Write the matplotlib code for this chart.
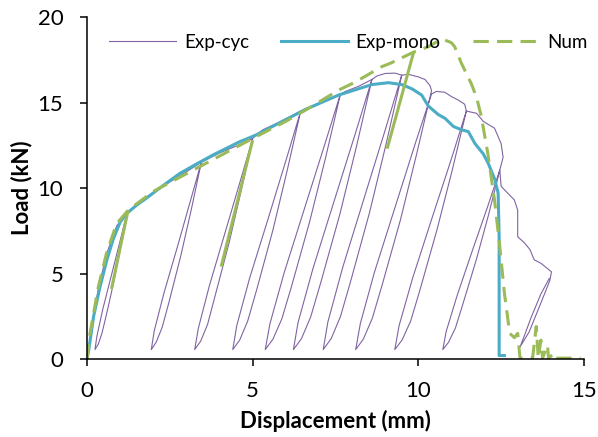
import matplotlib
matplotlib.use("Agg")
import matplotlib.pyplot as plt

plt.rcParams['font.family'] = ['Lato', 'DejaVu Sans']

# Exp-cyc: loading, then unload/reload leaves along the envelope
cyc_x = [0, 0.15, 0.35, 0.6, 0.9, 1.2,
         1.01, 0.81, 0.58, 0.45, 0.34, 0.24, 0.30, 0.48, 0.74, 1.0, 1.2,
         1.6, 2.0, 2.5, 3.0, 3.45,
         3.15, 2.83, 2.47, 2.27, 2.09, 1.94, 2.03, 2.32, 2.73, 3.13, 3.45,
         4.0, 4.5, 5.0,
         4.65, 4.28, 3.86, 3.64, 3.43, 3.25, 3.36, 3.69, 4.16, 4.63, 5.0,
         5.3, 5.8, 6.45,
         6.04, 5.61, 5.12, 4.85, 4.61, 4.40, 4.52, 4.91, 5.47, 6.02, 6.45,
         6.6, 7.1, 7.65,
         7.20, 6.72, 6.18, 5.88, 5.61, 5.38, 5.52, 5.95, 6.56, 7.17, 7.65,
         7.8, 8.2, 8.6,
         8.13, 7.63, 7.06, 6.75, 6.47, 6.23, 6.37, 6.82, 7.46, 8.10, 8.6,
         8.75, 9.0, 9.3, 9.5,
         9.03, 8.53, 7.96, 7.65, 7.37, 7.13, 7.27, 7.72, 8.36, 9.0, 9.5,
         9.7, 10.0, 10.2, 10.35, 10.4,
         9.94, 9.46, 8.91, 8.61, 8.34, 8.11, 8.25, 8.68, 9.30, 9.92, 10.4,
         10.55, 10.8, 11.0, 11.2, 11.4, 11.45,
         11.02, 10.56, 10.05, 9.77, 9.51, 9.29, 9.42, 9.83, 10.41, 11.0, 11.45,
         11.76, 11.96, 12.3, 12.5, 12.56, 12.46,
         12.12, 11.75, 11.34, 11.12, 10.91, 10.74, 10.84, 11.17, 11.63, 12.10, 12.46,
         12.5, 12.6, 12.9, 13.0, 13.0, 13.2, 13.37, 13.5, 13.7, 14.02,
         13.97, 13.85, 13.6, 13.35, 13.15, 13.07, 13.17, 13.4, 13.7, 13.95]
cyc_y = [0, 2.0, 4.2, 6.2, 7.8, 8.5,
         6.51, 4.53, 2.54, 1.50, 0.87, 0.55, 1.35, 2.94, 4.92, 6.91, 8.5,
         9.2, 9.75, 10.35, 10.95, 11.5,
         8.76, 6.03, 3.29, 1.86, 0.99, 0.55, 1.65, 3.84, 6.57, 9.31, 11.5,
         12.05, 12.45, 12.9,
         9.81, 6.73, 3.64, 2.03, 1.04, 0.55, 1.79, 4.26, 7.34, 10.43, 12.9,
         13.4, 13.85, 14.5,
         11.01, 7.53, 4.04, 2.22, 1.11, 0.55, 1.95, 4.74, 8.22, 11.71, 14.5,
         14.65, 15.05, 15.5,
         11.76, 8.03, 4.29, 2.34, 1.15, 0.55, 2.05, 5.04, 8.77, 12.51, 15.5,
         15.65, 15.95, 16.35,
         12.4, 8.45, 4.5, 2.45, 1.18, 0.55, 2.13, 5.29, 9.24, 13.19, 16.35,
         16.55, 16.7, 16.72, 16.6,
         12.59, 8.58, 4.56, 2.48, 1.19, 0.55, 2.16, 5.37, 9.38, 13.39, 16.6,
         16.65, 16.5, 16.35, 16.0, 15.7,
         11.91, 8.13, 4.34, 2.37, 1.16, 0.55, 2.07, 5.1, 8.88, 12.67, 15.5,
         15.65, 15.6, 15.35, 15.15, 14.9, 14.5,
         11.01, 7.53, 4.04, 2.22, 1.11, 0.55, 1.95, 4.74, 8.22, 11.71, 14.5,
         14.37, 13.9, 13.5, 12.6, 11.8, 11.05,
         8.43, 5.8, 3.18, 1.81, 0.97, 0.55, 1.6, 3.7, 6.33, 8.95, 11.05,
         10.1, 9.9, 9.3, 8.7, 7.15, 6.8, 6.4, 5.8, 5.6, 5.1,
         4.6, 4.0, 2.8, 1.6, 0.95, 0.7, 1.2, 2.4, 3.8, 4.7]

# Exp-mono
mono_x = [0, 0.05, 0.2, 0.39, 0.6, 0.79, 1.0, 1.19, 1.5, 1.79, 2.3, 2.8, 3.3, 3.8,
          4.6, 5.1, 5.6, 6.0, 6.6, 7.6, 8.6, 9.1, 9.5, 9.81, 10.1, 10.3, 10.6,
          10.81, 11.06, 11.31, 11.51, 11.71, 11.96, 12.11, 12.31, 12.41, 12.44,
          12.44, 12.6]
mono_y = [0, 0.5, 2.5, 4.2, 5.8, 7.0, 8.0, 8.5, 9.0, 9.4, 10.15, 10.85, 11.4, 11.93,
          12.7, 13.1, 13.6, 14.0, 14.6, 15.44, 16.05, 16.16, 16.05, 15.8, 15.44, 14.8, 14.3,
          14.07, 13.6, 13.4, 13.3, 12.6, 12.0, 11.45, 10.5, 9.7, 7.15,
          0.2, 0.2]

# Num
num_x = [0, 0.09, 0.34, 0.59, 0.89, 1.24, 2.0, 3.4, 5.0, 6.0, 6.6, 7.6, 8.1, 8.9,
         9.16, 9.86, 10.3, 10.6, 10.81, 11.0, 11.1, 11.3, 11.6, 11.76, 11.9, 12.1,
         12.3, 12.46, 12.6, 12.76, 12.9, 13.0, 13.07, 13.45, 13.56, 13.62, 13.7,
         13.75, 13.9, 13.93, 14.1, 14.15, 14.9]
num_y = [0, 1.5, 4.2, 6.2, 7.9, 8.7, 9.8, 11.25, 12.9, 13.9, 14.56, 15.73, 16.2, 17.1,
         17.3, 17.95, 18.26, 18.6, 18.65, 18.5, 18.26, 17.3, 16.1, 15.3, 14.2, 12.0,
         9.3, 6.57, 3.84, 1.5, 1.25, 1.5, 0.05, 0.05, 1.9, 0.05, 1.1,
         0.05, 0.8, 0.05, 0.33, 0.05, 0.05]
# Num unloading branches (retraced, so they look solid)
num_unload_x = [[1.24, 0.74], [5.0, 4.05], [9.86, 9.06]]
num_unload_y = [[8.7, 4.1], [12.8, 5.4], [17.95, 12.3]]

fig = plt.figure(figsize=(5.98, 4.37), dpi=100)
ax = fig.add_axes([0.1455, 0.1785, 0.831, 0.7825])

ax.plot(cyc_x, cyc_y, color='#8064A2', lw=0.8, label='Exp-cyc')
ax.plot(mono_x, mono_y, color='#4BACC6', lw=2.2, label='Exp-mono')
ax.plot(num_x, num_y, color='#9BBB59', lw=2.2, dashes=(5, 2.7), label='Num')
for ux, uy in zip(num_unload_x, num_unload_y):
    ax.plot(ux, uy, color='#9BBB59', lw=2.2, solid_capstyle='butt')

ax.set_xlim(0, 15)
ax.set_ylim(0, 20)
ax.set_xticks([0, 5, 10, 15])
ax.set_yticks([0, 5, 10, 15, 20])
for s in ['top', 'right']:
    ax.spines[s].set_visible(False)
for s in ['left', 'bottom']:
    ax.spines[s].set_linewidth(1.1)
    ax.spines[s].set_clip_on(False)
ax.tick_params(direction='out', length=5, width=1.1, labelsize=16)
ax.tick_params(axis='x', pad=11)
ax.tick_params(axis='y', pad=12)

ax.set_xlabel('Displacement (mm)', fontsize=16, fontweight='bold', labelpad=6)
ax.set_ylabel('Load (kN)', fontsize=16, fontweight='bold', labelpad=4)

ax.legend(loc='center', bbox_to_anchor=(0.526, 0.927), ncol=3, frameon=False,
          fontsize=13.5, handlelength=3.6, handletextpad=0.4, columnspacing=1.7)

fig.savefig('out.png', dpi=100)
